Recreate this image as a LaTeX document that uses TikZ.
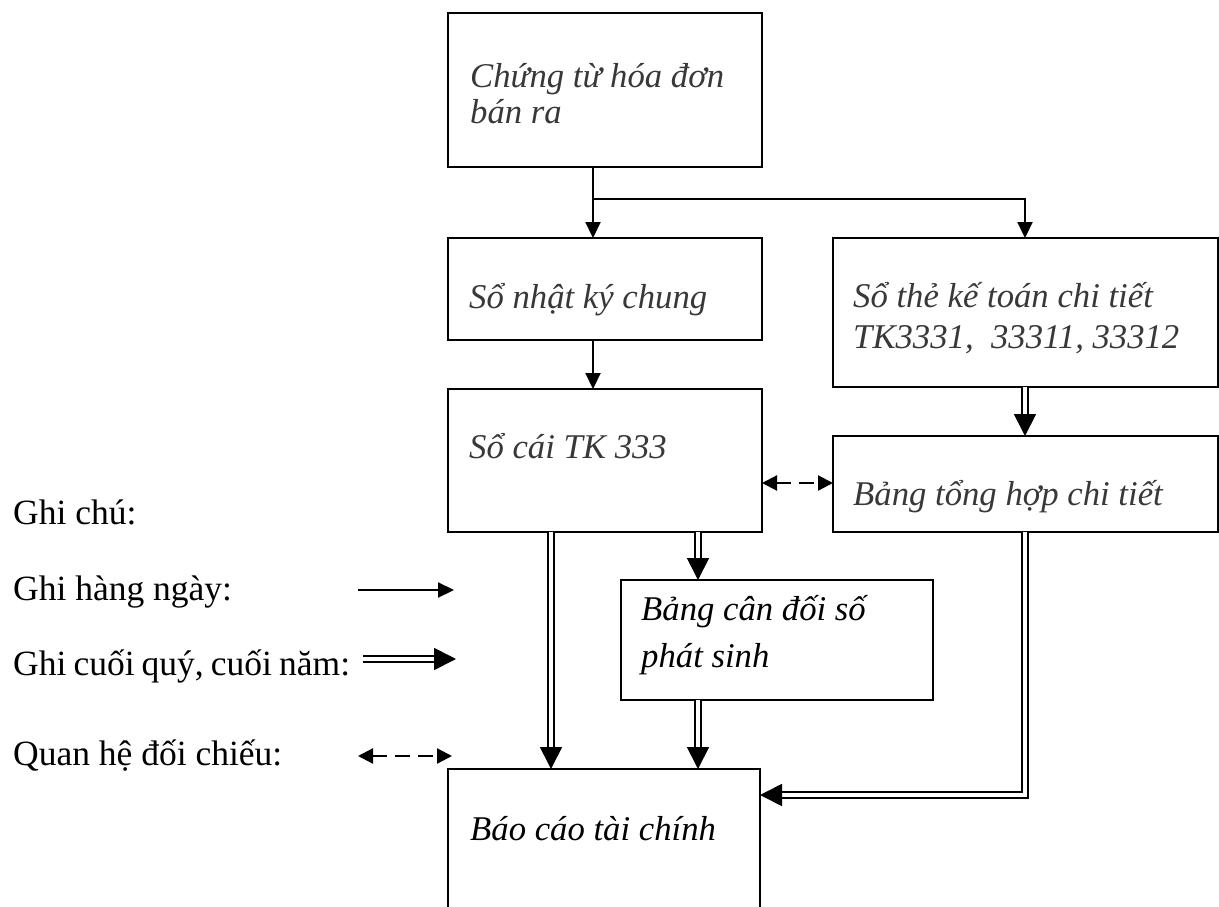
\documentclass[tikz,border=0pt]{standalone}
\usepackage{fontspec}
\setmainfont{Liberation Serif}
\usetikzlibrary{arrows.meta,calc}

\begin{document}
\begin{tikzpicture}[x=1pt,y=-1pt,
  box/.style={draw, line width=1.8pt, anchor=north west, inner sep=0pt, outer sep=0pt},
  boxtxt/.style={anchor=base west, inner sep=0pt, font=\fontsize{34.7}{40}\selectfont\itshape, text=black!78},
  boxtxtk/.style={boxtxt, text=black},
  legtxt/.style={anchor=base west, inner sep=0pt, font=\fontsize{35.5}{40}\selectfont},
  smallhead/.style={Triangle[length=16pt,width=15pt]},
  sarrow/.style={line width=2.2pt, -{Triangle[length=16pt,width=15pt]}},
  darrow/.style={double, line width=1.8pt, double distance=3.6pt, -{Triangle[length=22pt,width=22pt]}},
  dasharrow/.style={line width=2.2pt, dash pattern=on 15pt off 8pt,
     {Triangle[length=15pt,width=15pt]}-{Triangle[length=15pt,width=15pt]}}
]
\useasboundingbox (0,0) rectangle (1219,907);
\fill[white] (0,0) rectangle (1219,907);
\clip (0,0) rectangle (1219,907);

% boxes of the flow chart
\node[box, minimum width=314pt, minimum height=154pt] (A) at (448,13) {};
\node[box, minimum width=314pt, minimum height=102pt] (B) at (448,238) {};
\node[box, minimum width=385pt, minimum height=149pt] (C) at (833,238) {};
\node[box, minimum width=314pt, minimum height=143pt] (D) at (448,389) {};
\node[box, minimum width=385pt, minimum height=96pt]  (E) at (833,436) {};
\node[box, minimum width=312pt, minimum height=120pt] (F) at (621,580) {};
\node[box, minimum width=312pt, minimum height=200pt] (G) at (448,769) {};

% box texts
\node[boxtxt] (tA1) at (470,88) {Chứng từ hóa đơn};
\node[boxtxt] (tA2) at (470,124) {bán ra};
\node[boxtxt] (tB) at (469,308) {Sổ nhật ký chung};
\node[boxtxt] (tC1) at (853,307) {Sổ thẻ kế toán chi tiết};
\node[boxtxt] (tC2) at (853,348) {TK3331,\ \ 33311, 33312};
\node[boxtxt] (tD) at (469,458) {Sổ cái TK 333};
\node[boxtxt] (tE) at (853,505) {Bảng tổng hợp chi tiết};
\node[boxtxtk] (tF1) at (641,620) {Bảng cân đối số};
\node[boxtxtk] (tF2) at (641,667) {phát sinh};
\node[boxtxtk] (tG) at (470,840) {Báo cáo tài chính};

% columns and rows used by the connectors
\coordinate (xA) at (593,0);
\coordinate (xC) at (1025,0);
\coordinate (xL) at (551,0);
\coordinate (xM) at (698,0);
\coordinate (yBr) at (0,199);
\coordinate (yDash) at (0,483);
\coordinate (yH) at (0,795);

% connectors
\draw[sarrow] (A.south -| xA) -- (B.north -| xA);
\draw[sarrow] (yBr -| xA) -| (C.north -| xC);
\draw[sarrow] (B.south -| xA) -- (D.north -| xA);
\draw[darrow] (C.south -| xC) -- (E.north -| xC);
\draw[dasharrow] (D.east |- yDash) -- (E.west |- yDash);
\draw[darrow] (D.south -| xL) -- (G.north -| xL);
\draw[darrow] (D.south -| xM) -- (F.north -| xM);
\draw[darrow] (F.south -| xM) -- (G.north -| xM);
\draw[darrow] (E.south -| xC) |- (G.east |- yH);

% legend
\node[legtxt] (n0) at (13,524) {Ghi chú:};
\node[legtxt] (n1) at (13,600) {Ghi hàng ngày:};
\node[legtxt] (n2) at (13,675) {Ghi\hspace{0.2em}cuối\hspace{0.2em}quý,\hspace{0.2em}cuối\hspace{0.2em}năm:};
\node[legtxt] (n3) at (13,765) {Quan hệ đối chiếu:};
\coordinate (l1s) at (358,590);
\coordinate (l1e) at (454,590);
\coordinate (l2s) at (363,659);
\coordinate (l2e) at (456,659);
\coordinate (l3s) at (358,756);
\coordinate (l3e) at (452,756);
\draw[sarrow] (l1s) -- (l1e);
\draw[darrow] (l2s) -- (l2e);
\draw[dasharrow] (l3s) -- (l3e);
\end{tikzpicture}
\end{document}
